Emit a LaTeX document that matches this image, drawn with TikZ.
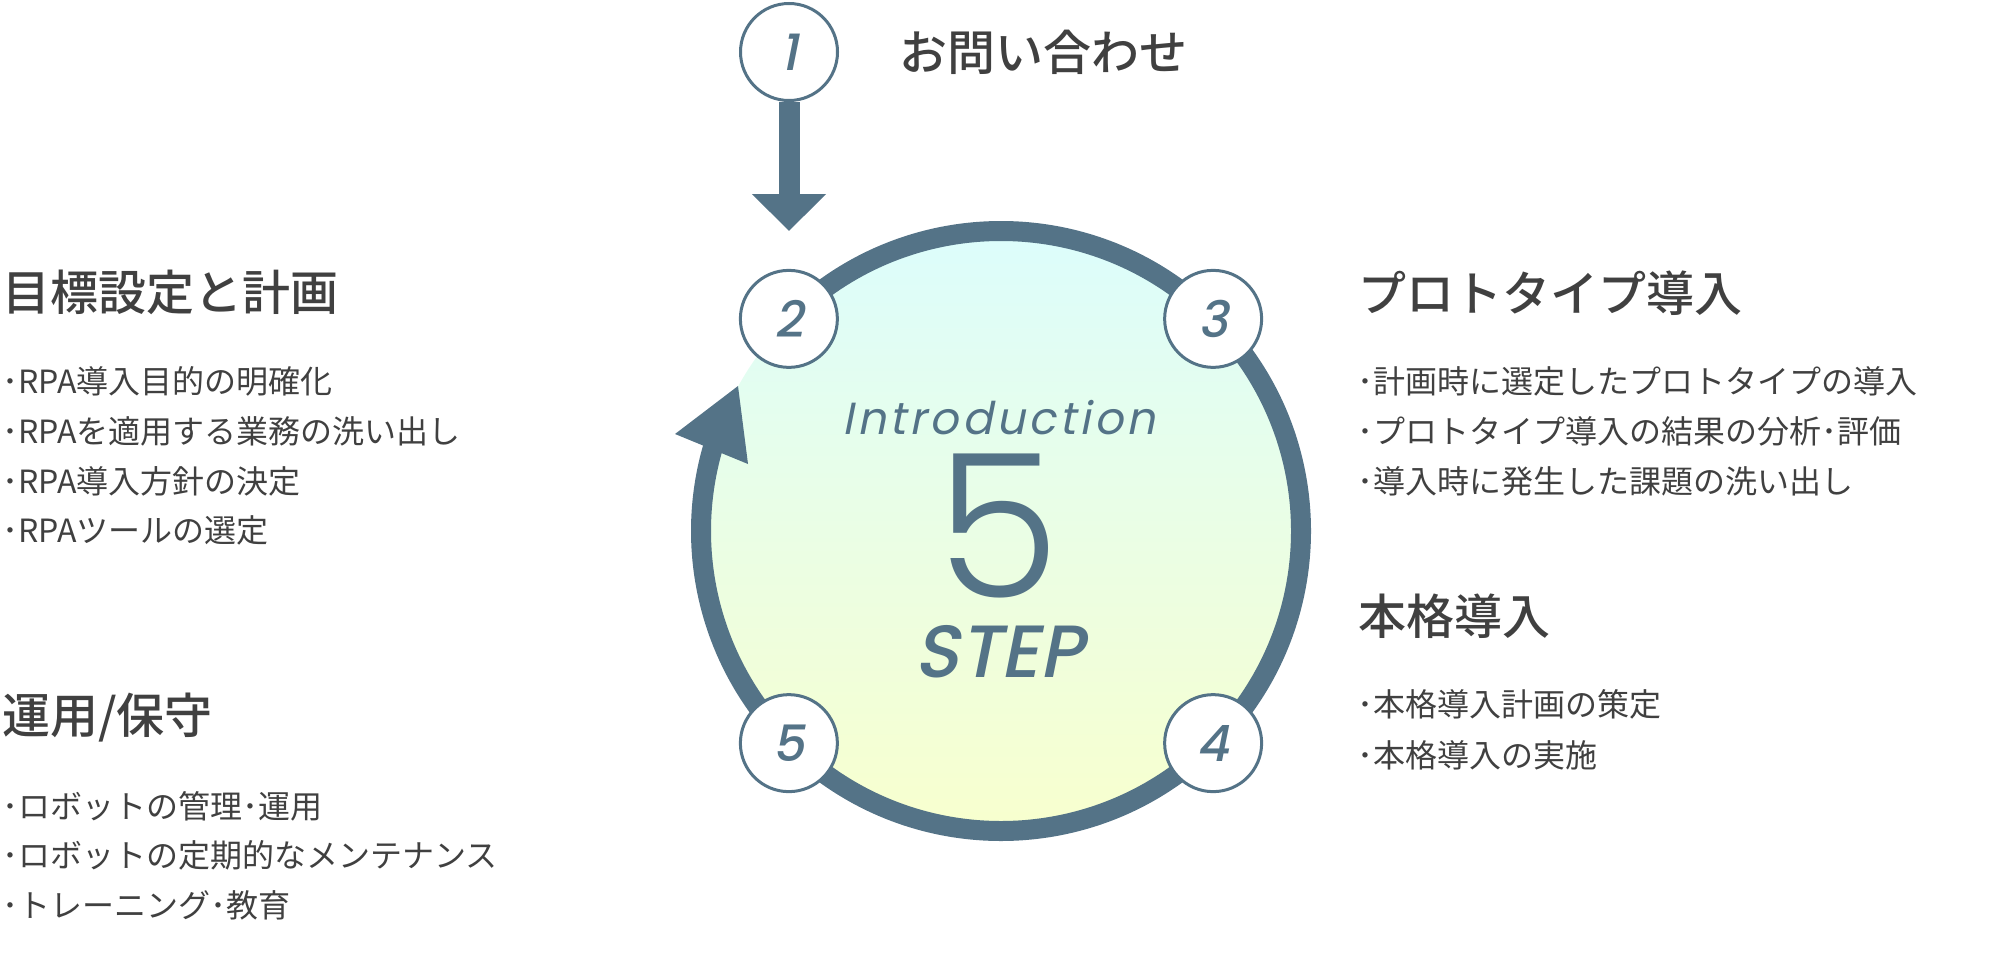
\documentclass[tikz,border=0pt]{standalone}
\usepackage{fontspec}
\usetikzlibrary{arrows.meta,calc}
\newfontfamily\jp{Noto Sans CJK JP}
\newfontfamily\jpm{Noto Sans CJK JP Medium}
\newfontfamily\numit{Poppins Medium}[FakeSlant=0.2]
\newfontfamily\popit{Poppins}[FakeSlant=0.2, LetterSpace=8]
\newfontfamily\poplight{Poppins Light}
\definecolor{ringc}{RGB}{84,115,135}
\definecolor{txt}{RGB}{64,64,64}
\definecolor{topc}{RGB}{220,253,252}
\definecolor{botc}{RGB}{248,255,206}
\tikzset{
  stepcirc/.style={circle, draw=ringc, line width=3pt, fill=white, minimum size=97pt, inner sep=0pt,
    font=\numit\fontsize{50}{50}\selectfont, text=ringc},
  jphead/.style={font=\jpm\fontsize{48}{56}\selectfont, text=txt, anchor=west, inner sep=0pt,
    text height=40pt, text depth=8pt},
  bullet/.style={font=\jp\fontsize{32}{40}\selectfont, text=txt, anchor=west, inner sep=0pt,
    text height=26pt, text depth=6pt},
  ring/.style={draw=ringc, line width=20pt},
  toparrow/.style={draw=ringc, line width=21pt, -{Triangle[width=72pt 0 0, length=37pt 0 0]}},
  center text/.style={text=ringc, anchor=base, inner sep=0pt}
}
\begin{document}
\begin{tikzpicture}[x=1pt, y=-1pt]
\useasboundingbox (0,0) rectangle (2001,953);
\coordinate (C) at (1001,531);
% filled disc
\shade[top color=topc, bottom color=botc] (C) circle[radius=300];
% ring
\draw[ring] ($(C)+(225:300)$) arc[start angle=225, end angle=557, radius=300];
\fill[ringc] (738,386) -- (675,434) -- (748,464) -- cycle;
% step circles
\node[stepcirc] (n1) at (789,52) {1};
\node[stepcirc] (n2) at ($(C)+(225:300)$) {2};
\node[stepcirc] (n3) at ($(C)+(315:300)$) {3};
\node[stepcirc] (n4) at ($(C)+(45:300)$) {4};
\node[stepcirc] (n5) at ($(C)+(135:300)$) {5};
\coordinate (a1end) at (789,231);
\draw[toparrow] (n1.south) -- (a1end);
% center texts
\node[center text, font=\popit\fontsize{45}{45}\selectfont] (intro) at (999,434) {Introduction};
\node[center text, font=\poplight\fontsize{200}{200}\selectfont] (five) at (998,597) {5};
\node[center text, font=\numit\fontsize{74}{74}\selectfont] (step) at (999,677) {STEP};
% top label
\node[jphead] (h1) at (899,54) {お問い合わせ};
% left block 1
\node[jphead] (h2) at (2,294) {目標設定と計画};
\node[bullet] (b21) at (2,383) {･RPA導入目的の明確化};
\node[bullet] (b22) at (2,433) {･RPAを適用する業務の洗い出し};
\node[bullet] (b23) at (2,483) {･RPA導入方針の決定};
\node[bullet] (b24) at (2,532) {･RPAツールの選定};
% left block 2
\node[jphead] (h5) at (2,717) {運用/保守};
\node[bullet] (b51) at (2,808) {･ロボットの管理･運用};
\node[bullet] (b52) at (2,857) {･ロボットの定期的なメンテナンス};
\node[bullet] (b53) at (2,907) {･トレーニング･教育};
% right block 1
\node[jphead] (h3) at (1358,295) {プロトタイプ導入};
\node[bullet] (b31) at (1357,383) {･計画時に選定したプロトタイプの導入};
\node[bullet] (b32) at (1357,433) {･プロトタイプ導入の結果の分析･評価};
\node[bullet] (b33) at (1357,483) {･導入時に発生した課題の洗い出し};
% right block 2
\node[jphead] (h4) at (1358,618) {本格導入};
\node[bullet] (b41) at (1357,706) {･本格導入計画の策定};
\node[bullet] (b42) at (1357,757) {･本格導入の実施};
\end{tikzpicture}
\end{document}
